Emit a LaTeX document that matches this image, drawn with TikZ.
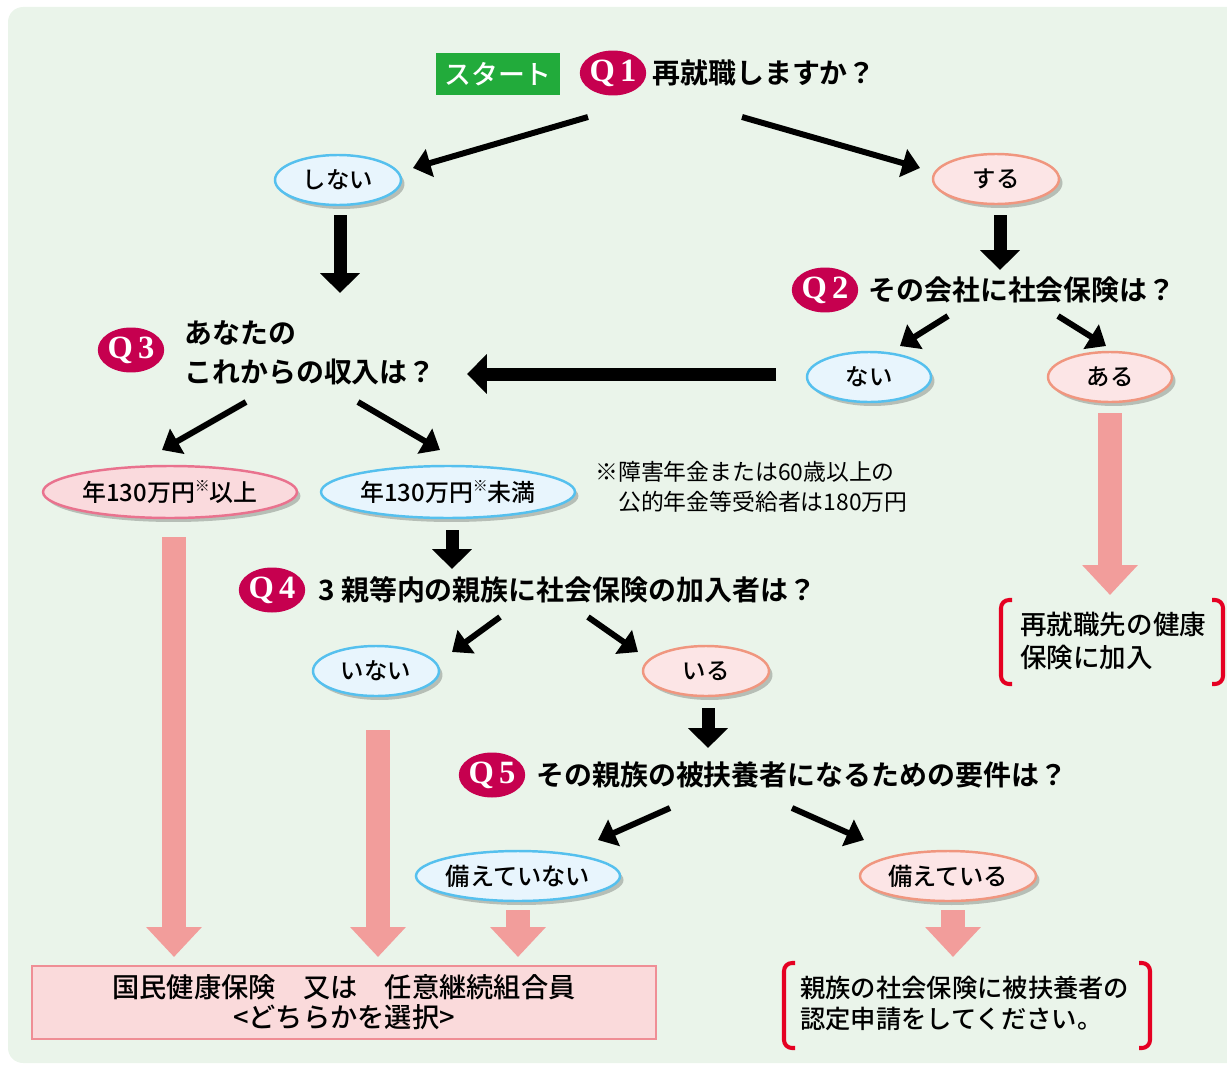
\documentclass[tikz,border=0pt]{standalone}
\usepackage{fontspec}
\usetikzlibrary{arrows.meta,shapes.geometric,shadows}
\newfontfamily\jp{Noto Sans CJK JP}[BoldFont={Noto Sans CJK JP Bold}]
\newfontfamily\jpm{Noto Sans CJK JP Medium}
\newfontfamily\qf{Liberation Serif}
\definecolor{bgc}{HTML}{EAF4EA}
\definecolor{startg}{HTML}{22AB3B}
\definecolor{crim}{HTML}{C6004F}
\definecolor{bfill}{HTML}{E8F5FD}
\definecolor{bline}{HTML}{55C0EE}
\definecolor{pfill}{HTML}{FCE5E6}
\definecolor{pline}{HTML}{F0967F}
\definecolor{rfill}{HTML}{FADADD}
\definecolor{rline}{HTML}{E9728E}
\definecolor{parr}{HTML}{F29D9B}
\definecolor{boxfill}{HTML}{FADADB}
\definecolor{boxline}{HTML}{EF8E95}
\definecolor{brk}{HTML}{E50022}
\tikzset{
  lab/.style={ellipse, inner sep=0pt, line width=1.4pt, minimum width=2.52cm, minimum height=1.0cm,
    font=\jpm\fontsize{13.3}{15}\selectfont,
    drop shadow={shadow xshift=0.07cm, shadow yshift=-0.08cm, fill=black, opacity=0.22}},
  blab/.style={lab, draw=bline, fill=bfill},
  plab/.style={lab, draw=pline, fill=pfill},
  rlab/.style={lab, draw=rline, fill=rfill},
  qbadge/.style={ellipse, fill=crim, inner sep=0pt, minimum width=1.26cm, minimum height=0.9cm,
    text=white, font=\qf\bfseries\fontsize{18.5}{19}\selectfont},
  qtext/.style={anchor=west, inner sep=0pt, font=\jp\bfseries\fontsize{15.9}{22}\selectfont},
  qarr/.style={line width=3.4pt, -{Triangle[length=10pt,width=16pt]}},
  blk/.style={line width=7.4pt, -{Triangle[length=11.3pt,width=22pt]}},
  pink/.style={parr, line width=13.6pt, -{Triangle[length=17pt,width=30.6pt]}},
  brack/.style={brk, line width=2.3pt, rounded corners=0.16cm},
}
\begin{document}
\begin{tikzpicture}[x=0.02cm,y=-0.02cm]
\useasboundingbox (0,0) rectangle (1227,1068);
\clip (0,0) rectangle (1227,1068);
\fill[bgc, rounded corners=0.3cm] (8,7) rectangle (1280,1063);

% start and Q1
\node[fill=startg, text=white, minimum width=2.48cm, minimum height=0.86cm, inner sep=0pt,
  font=\jpm\fontsize{15.3}{16}\selectfont] (start) at (498,74) {スタート};
\node[qbadge] (q1) at (613,73) {Q\,1};
\node[qtext] (q1t) at (652,73) {再就職しますか？};

\node[blab] (shinai) at (338,180) {しない};
\node[plab] (suru) at (996,179) {する};

\coordinate (a1s) at (588,117); \coordinate (a1e) at (413,168);
\coordinate (a2s) at (742,117); \coordinate (a2e) at (920,168);
\draw[qarr] (a1s) -- (a1e);
\draw[qarr] (a2s) -- (a2e);

\coordinate (d1s) at (340,215); \coordinate (d1e) at (340,293);
\coordinate (d2s) at (1000,215); \coordinate (d2e) at (1000,270);
\draw[blk] (d1s) -- (d1e);
\draw[blk] (d2s) -- (d2e);

% Q2
\node[qbadge] (q2) at (825,290) {Q\,2};
\node[qtext] (q2t) at (868,290) {その会社に社会保険は？};
\node[blab, minimum width=2.48cm] (nai) at (869,377) {ない};
\node[plab, minimum width=2.48cm] (aru) at (1110,377) {ある};
\coordinate (b1s) at (948,316); \coordinate (b1e) at (900,346);
\coordinate (b2s) at (1058,316); \coordinate (b2e) at (1106,346);
\draw[qarr] (b1s) -- (b1e);
\draw[qarr] (b2s) -- (b2e);
\coordinate (ls) at (776,374); \coordinate (le) at (467,374);
\draw[blk] (ls) -- (le);

% Q3
\node[qbadge] (q3) at (131,350) {Q\,3};
\node[qtext, align=left] (q3t) at (184,353) {あなたの\\これからの収入は？};
\node[rlab, minimum width=5.08cm, minimum height=1.04cm, font=\jpm\fontsize{13.6}{15}\selectfont] (ijo) at (170,492)
  {年130万円\raisebox{.42em}{\fontsize{8.5}{9}\selectfont ※}以上};
\node[blab, minimum width=5.08cm, minimum height=1.04cm, font=\jpm\fontsize{13.6}{15}\selectfont] (miman) at (448,492)
  {年130万円\raisebox{.42em}{\fontsize{8.5}{9}\selectfont ※}未満};
\coordinate (c1s) at (246,402); \coordinate (c1e) at (162,450);
\coordinate (c2s) at (358,402); \coordinate (c2e) at (440,450);
\draw[qarr] (c1s) -- (c1e);
\draw[qarr] (c2s) -- (c2e);
\node[anchor=north west, align=left, inner sep=0pt, font=\jp\fontsize{13}{17}\selectfont] (note) at (595,461)
  {※障害年金または60歳以上の\\\phantom{※}公的年金等受給者は180万円};

\coordinate (d3s) at (452,530); \coordinate (d3e) at (452,569);
\draw[blk] (d3s) -- (d3e);

% Q4
\node[qbadge] (q4) at (272,590) {Q\,4};
\node[qtext] (q4t) at (318,590) {3 親等内の親族に社会保険の加入者は？};
\node[blab] (inai) at (376,671) {いない};
\node[plab] (iru) at (706,671) {いる};
\coordinate (e1s) at (500,617); \coordinate (e1e) at (452,652);
\coordinate (e2s) at (588,617); \coordinate (e2e) at (638,652);
\draw[qarr] (e1s) -- (e1e);
\draw[qarr] (e2s) -- (e2e);
\coordinate (d4s) at (708,708); \coordinate (d4e) at (708,748);
\draw[blk] (d4s) -- (d4e);

% Q5
\node[qbadge] (q5) at (492,775) {Q\,5};
\node[qtext] (q5t) at (536,775) {その親族の被扶養者になるための要件は？};
\node[blab, minimum width=3.52cm, font=\jpm\fontsize{13.8}{15}\selectfont] (snai) at (518,876) {備えていない};
\node[plab, minimum width=3.52cm, font=\jpm\fontsize{13.8}{15}\selectfont] (sru) at (948,876) {備えている};
\coordinate (f1s) at (670,808); \coordinate (f1e) at (598,840);
\coordinate (f2s) at (792,808); \coordinate (f2e) at (864,840);
\draw[qarr] (f1s) -- (f1e);
\draw[qarr] (f2s) -- (f2e);

% pink arrows
\coordinate (p1s) at (174,537); \coordinate (p1e) at (174,957);
\coordinate (p2s) at (378,730); \coordinate (p2e) at (378,957);
\coordinate (p3s) at (518,910); \coordinate (p3e) at (518,957);
\coordinate (p4s) at (953,910); \coordinate (p4e) at (953,957);
\coordinate (p5s) at (1110,413); \coordinate (p5e) at (1110,595);
\draw[pink] (p1s) -- (p1e);
\draw[pink] (p2s) -- (p2e);
\draw[pink] (p3s) -- (p3e);
\draw[pink] (p4s) -- (p4e);
\draw[pink] (p5s) -- (p5e);

% bottom box
\node[draw=boxline, fill=boxfill, line width=1.2pt, minimum width=12.48cm, minimum height=1.46cm,
  align=center, font=\jpm\fontsize{15.5}{17}\selectfont, inner sep=0pt] (kokuho) at (344,1002.5)
  {国民健康保険　又は　任意継続組合員\\<どちらかを選択>};

% bracket boxes
\node[anchor=north west, align=left, inner sep=0pt, font=\jpm\fontsize{15.1}{18.7}\selectfont] (saishu) at (1020,612)
  {再就職先の健康\\保険に加入};
\draw[brack] (1012,600) -- (1001,600) -- (1001,684) -- (1012,684);
\draw[brack] (1212,600) -- (1223,600) -- (1223,684) -- (1212,684);

\node[anchor=north west, align=left, inner sep=0pt, font=\jpm\fontsize{14.4}{17.6}\selectfont] (nintei) at (800,976)
  {親族の社会保険に被扶養者の\\認定申請をしてください。};
\draw[brack] (795,963) -- (784,963) -- (784,1048) -- (795,1048);
\draw[brack] (1139,963) -- (1150,963) -- (1150,1048) -- (1139,1048);
\end{tikzpicture}
\end{document}
